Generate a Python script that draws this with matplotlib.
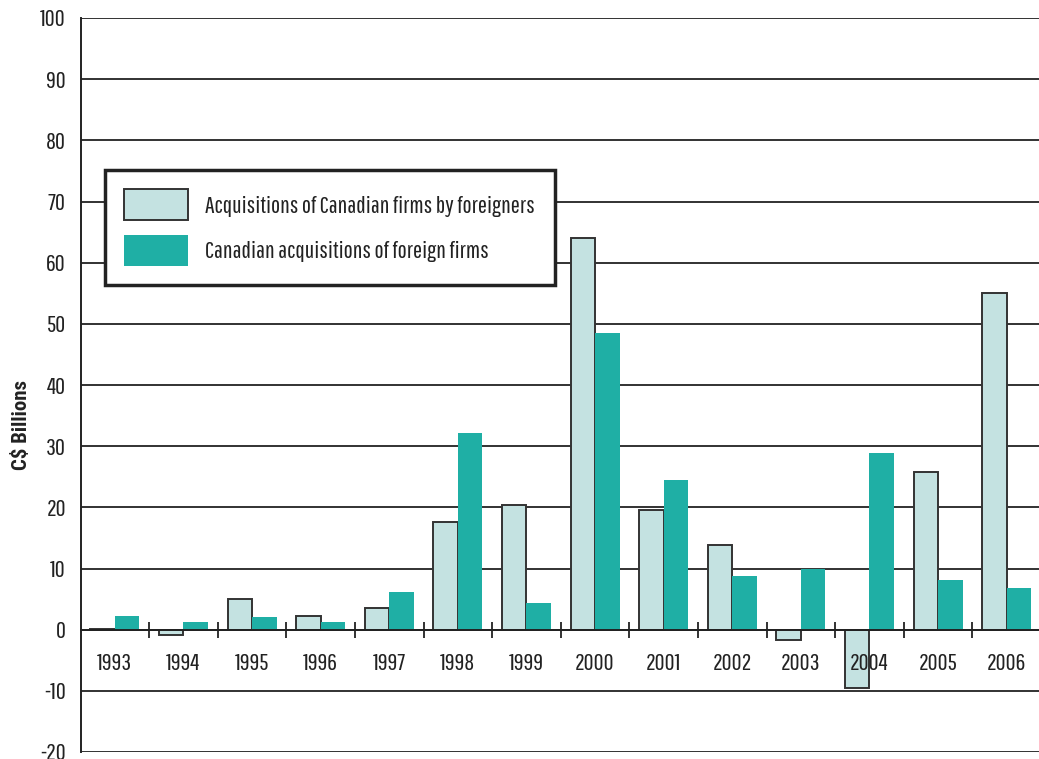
import matplotlib
matplotlib.use("Agg")
import matplotlib.pyplot as plt
import numpy as np
from matplotlib.patches import Patch

FONT = ['Pathway Gothic One', 'DejaVu Sans']
plt.rcParams['font.family'] = FONT

years = ['1993', '1994', '1995', '1996', '1997', '1998', '1999',
         '2000', '2001', '2002', '2003', '2004', '2005', '2006']
by_foreigners = [0.1, -0.9, 5.0, 2.2, 3.5, 17.6, 20.4,
                 64.1, 19.6, 13.8, -1.7, -9.6, 25.8, 55.0]
canadian_abroad = [2.3, 1.3, 2.0, 1.3, 6.1, 32.1, 4.4,
                   48.5, 24.4, 8.7, 10.0, 28.9, 8.1, 6.8]
yticks = list(range(-20, 101, 10))
series_labels = ['Acquisitions of Canadian firms by foreigners',
                 'Canadian acquisitions of foreign firms']

light = '#C4E2E1'
teal = '#1FAFA5'
edge = '#333333'
ink = '#222222'
FS = 17.5

W, H = 1039, 759
fig = plt.figure(figsize=(W / 100, H / 100), dpi=100)
ax_left, ax_right, ax_top, ax_bottom = 80.5, 1041, 18, 752
ax = fig.add_axes([ax_left / W, (H - ax_bottom) / H,
                   (ax_right - ax_left) / W, (ax_bottom - ax_top) / H])

x = np.arange(len(years))
bw = 0.357
ax.bar(x - bw / 2, by_foreigners, width=bw, color=light, edgecolor=edge,
       linewidth=1.4, zorder=3)
ax.bar(x + bw / 2, canadian_abroad, width=bw, color=teal, linewidth=0,
       zorder=3)

ax.set_xlim(-0.5, len(years) - 0.5)
ax.set_ylim(-20, 100)
ax.set_yticks(yticks)
ax.set_yticklabels([str(v) for v in yticks], fontsize=FS, color=ink)
ax.tick_params(axis='y', length=0, pad=10.5)
ax.yaxis.grid(True, color=ink, linewidth=1.3, zorder=0)
ax.set_axisbelow(True)

for s in ['top', 'right']:
    ax.spines[s].set_visible(False)
ax.spines['bottom'].set_position(('data', 0))
ax.spines['bottom'].set_linewidth(1.4)
ax.spines['bottom'].set_color(ink)
ax.spines['bottom'].set_zorder(4)
ax.spines['left'].set_linewidth(1.4)
ax.spines['left'].set_color(ink)
ax.set_xticks(x[1:] - 0.5)
ax.set_xticklabels([])
ax.tick_params(axis='x', which='major', direction='inout', length=12,
               width=1.3, color=ink)

for xi, yr in zip(x, years):
    ax.text(xi, -5.5, yr, ha='center', va='center', fontsize=FS,
            color=ink, zorder=6)

fig.text(22 / W, 1 - 425 / H, 'C$ Billions', rotation=90, fontsize=15,
         fontweight='bold', family=['Roboto Condensed', 'DejaVu Sans'],
         ha='center', va='center', color=ink)

handles = [Patch(facecolor=light, edgecolor=edge, linewidth=1.4),
           Patch(facecolor=teal, edgecolor=teal, linewidth=0)]
axw = ax_right - ax_left
axh = ax_bottom - ax_top
leg = ax.legend(handles, series_labels, loc='upper left',
                bbox_to_anchor=((105 - ax_left) / axw, (ax_bottom - 170) / axh),
                borderaxespad=0, fontsize=FS, frameon=True, fancybox=False,
                handlelength=2.63, handleheight=1.56, labelspacing=0.62,
                borderpad=0.8, handletextpad=0.7)
leg.get_frame().set_edgecolor(ink)
leg.get_frame().set_linewidth(2.5)
leg.get_frame().set_alpha(1)
leg.set_zorder(5)
for t in leg.get_texts():
    t.set_color(ink)

fig.savefig('out.png', dpi=100)
